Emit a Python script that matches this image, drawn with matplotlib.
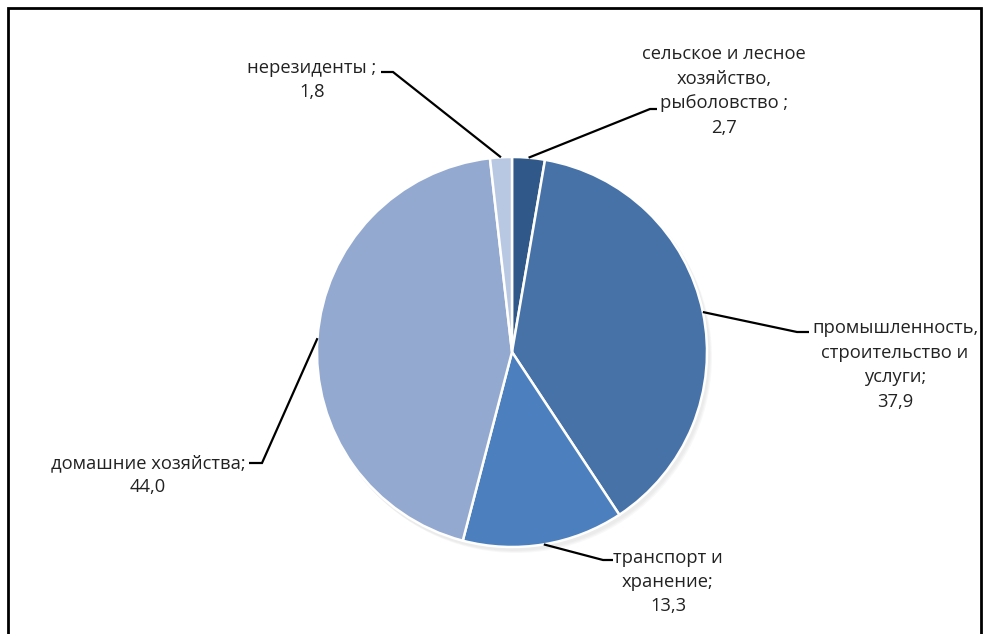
import numpy as np
import matplotlib
matplotlib.use("Agg")
import matplotlib.pyplot as plt
from matplotlib.patches import Circle

plt.rcParams['font.family'] = ['Open Sans', 'DejaVu Sans']

categories = ["сельское и лесное\nхозяйство,\nрыболовство ;",
              "промышленность,\nстроительство и\nуслуги;",
              "транспорт и\nхранение;",
              "домашние хозяйства;",
              "нерезиденты ;"]
values = [2.7, 37.9, 13.3, 44.0, 1.8]
value_labels = ["2,7", "37,9", "13,3", "44,0", "1,8"]
colors = ["#30598A", "#4672A7", "#4B7FBD", "#93A9D0", "#B9C8E2"]

W, H = 989, 634
fig = plt.figure(figsize=(W / 100, H / 100), dpi=100)
ax = fig.add_axes([0, 0, 1, 1])


def P(x, y):
    """pixel (from top-left) -> data coords"""
    return x, H - y


cx, cy = P(512, 352)
R = 195

# soft shadow
for i in range(3):
    ax.add_patch(Circle((cx + 2 + i, cy - 3 - i), R + 1, color='#808080', alpha=0.05, lw=0, zorder=1))

wedges, _ = ax.pie(values, colors=colors, startangle=90, counterclock=False,
                   radius=R, center=(cx, cy), frame=True,
                   wedgeprops=dict(edgecolor='white', linewidth=1.8, zorder=2))
ax.set_xlim(0, W)
ax.set_ylim(0, H)
ax.set_aspect('equal')
ax.axis('off')

# label text positions (pixel layout) and leader geometry
text_pos = [(724, 91), (895, 365), (668, 582), (148, 475), (312, 80)]
elbows = [((650, 109), (657, 109)), ((797, 332), (809, 332)), ((603, 560), (613, 560)),
          ((262, 463), (249, 463)), ((393, 72), (381, 72))]

for w, cat, vl, tp, (e1, e2) in zip(wedges, categories, value_labels, text_pos, elbows):
    ang = np.deg2rad((w.theta1 + w.theta2) / 2)
    px = cx + R * np.cos(ang)
    py = cy + R * np.sin(ang)
    a1, a2 = P(*e1), P(*e2)
    ax.plot([px, a1[0], a2[0]], [py, a1[1], a2[1]], color='black', lw=1.6, zorder=3,
            solid_capstyle='butt', solid_joinstyle='miter')
    t = P(*tp)
    ax.text(t[0], t[1], cat + "\n" + vl, ha='center', va='center', fontsize=13.2,
            color='#222222', linespacing=1.46, zorder=4)

# frame (bottom edge outside the picture)
xs = [8, 8, 981, 981]
ys = [H + 5, 8, 8, H + 5]
ax.plot(xs, [H - y for y in ys], color='black', lw=2, zorder=5, solid_joinstyle='miter')

fig.savefig("out.png", dpi=100)
